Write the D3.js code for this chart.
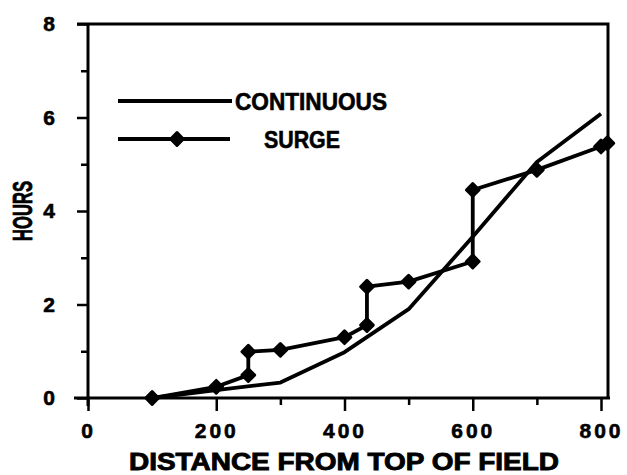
<!DOCTYPE html>
<html>
<head>
<meta charset="utf-8">
<script src="https://cdn.jsdelivr.net/npm/d3@7"></script>
<style>
  body { margin: 0; background: #fff; }
  svg { display: block; }
  text { font-family: "Liberation Sans", Arial, sans-serif; font-weight: bold; fill: #000; }
</style>
</head>
<body>
<svg width="627" height="475"></svg>
<script>
// values
var contX = [100, 200, 300, 400, 500, 600, 700, 800];
var contY = [0, 0.17, 0.33, 0.98, 1.9, 3.45, 5.05, 6.08];

var surgeX = [100, 200, 250, 250, 300, 400, 435, 435, 500, 600, 600, 700, 800, 810];
var surgeY = [0, 0.24, 0.49, 0.99, 1.03, 1.3, 1.56, 2.38, 2.49, 2.92, 4.45, 4.88, 5.38, 5.45];

var xTicks = [0, 200, 400, 600, 800];
var xMinor = [100, 300, 500, 700];
var yTicks = [0, 2, 4, 6, 8];
var yMinor = [1, 3, 5, 7];

var svg = d3.select("svg");

var pLeft = 88, pRight = 608, pTop = 24, pBottom = 398;

var x = d3.scaleLinear().domain([0, 800]).range([pLeft, 601]);
var y = d3.scaleLinear().domain([0, 8]).range([pBottom, pTop]);

// frame
svg.append("path")
    .attr("d", "M" + (pLeft - 11) + "," + pTop + "H" + pRight + "V" + pBottom)
    .attr("fill", "none")
    .attr("stroke", "#000")
    .attr("stroke-width", 3);

// y axis
var yAxis = svg.append("g").attr("transform", "translate(" + pLeft + ",0)");
yAxis.call(d3.axisLeft(y).tickValues(yTicks).tickSize(11).tickPadding(22).tickFormat(d3.format("d")));
yAxis.append("g").call(d3.axisLeft(y).tickValues(yMinor).tickSize(7).tickFormat(""));
yAxis.selectAll(".domain").remove();
yAxis.append("line").attr("y1", pTop).attr("y2", pBottom + 8)
    .attr("stroke", "#000").attr("stroke-width", 3);

// x axis
var xAxis = svg.append("g").attr("transform", "translate(0," + pBottom + ")");
xAxis.call(d3.axisBottom(x).tickValues(xTicks).tickSize(13).tickPadding(12).tickFormat(d3.format("d")));
xAxis.append("g").call(d3.axisBottom(x).tickValues(xMinor).tickSize(7).tickFormat(""));
xAxis.selectAll(".domain").remove();
xAxis.append("line").attr("x1", pLeft - 14).attr("x2", pRight + 2)
    .attr("stroke", "#000").attr("stroke-width", 3);

svg.selectAll(".tick line").attr("stroke", "#000").attr("stroke-width", 2.5);
svg.selectAll(".tick text")
    .style("font-family", "'Liberation Sans', Arial, sans-serif")
    .style("font-weight", "bold")
    .style("font-size", "21px")
    .attr("stroke", "#000").attr("stroke-width", 0.6);
xAxis.selectAll(".tick text").style("letter-spacing", "3px");

// axis titles
svg.append("text")
    .attr("x", 344).attr("y", 470)
    .attr("text-anchor", "middle")
    .attr("textLength", 430).attr("lengthAdjust", "spacingAndGlyphs")
    .attr("stroke", "#000").attr("stroke-width", 0.9)
    .style("font-size", "24px")
    .text("DISTANCE FROM TOP OF FIELD");

svg.append("text")
    .attr("transform", "translate(32,211) rotate(-90)")
    .attr("text-anchor", "middle")
    .attr("textLength", 60).attr("lengthAdjust", "spacingAndGlyphs")
    .attr("stroke", "#000").attr("stroke-width", 0.8)
    .style("font-size", "27px")
    .text("HOURS");

// lines
var line = d3.line().x(function(d) { return x(d[0]); }).y(function(d) { return y(d[1]); });

var contData = contX.map(function(d, i) { return [d, contY[i]]; });
var surgeData = surgeX.map(function(d, i) { return [d, surgeY[i]]; });

svg.append("path")
    .datum(contData)
    .attr("d", line)
    .attr("fill", "none")
    .attr("stroke", "#000")
    .attr("stroke-width", 3.8)
    .attr("stroke-linejoin", "round");

svg.append("path")
    .datum(surgeData)
    .attr("d", line)
    .attr("fill", "none")
    .attr("stroke", "#000")
    .attr("stroke-width", 3.8)
    .attr("stroke-linejoin", "round");

var marker = d3.symbol().type(d3.symbolSquare).size(80);

svg.selectAll(".pt")
    .data(surgeData)
    .enter()
    .append("path")
    .attr("class", "pt")
    .attr("d", marker)
    .attr("transform", function(d) { return "translate(" + x(d[0]) + "," + y(d[1]) + ") rotate(45)"; })
    .attr("fill", "#000")
    .attr("stroke", "#000")
    .attr("stroke-width", 3)
    .attr("stroke-linejoin", "round");

// legend
var legend = svg.append("g");
legend.append("line").attr("x1", 118).attr("x2", 232).attr("y1", 101).attr("y2", 101)
    .attr("stroke", "#000").attr("stroke-width", 3.8);
legend.append("text").attr("x", 235).attr("y", 110)
    .attr("textLength", 152).attr("lengthAdjust", "spacingAndGlyphs")
    .attr("stroke", "#000").attr("stroke-width", 0.6)
    .style("font-size", "24px").text("CONTINUOUS");

legend.append("line").attr("x1", 118).attr("x2", 230).attr("y1", 139).attr("y2", 139)
    .attr("stroke", "#000").attr("stroke-width", 3.8);
legend.append("path").attr("d", marker)
    .attr("transform", "translate(177,139) rotate(45)")
    .attr("fill", "#000").attr("stroke", "#000").attr("stroke-width", 3)
    .attr("stroke-linejoin", "round");
legend.append("text").attr("x", 264).attr("y", 148)
    .attr("textLength", 76).attr("lengthAdjust", "spacingAndGlyphs")
    .attr("stroke", "#000").attr("stroke-width", 0.6)
    .style("font-size", "24px").text("SURGE");
</script>
</body>
</html>
